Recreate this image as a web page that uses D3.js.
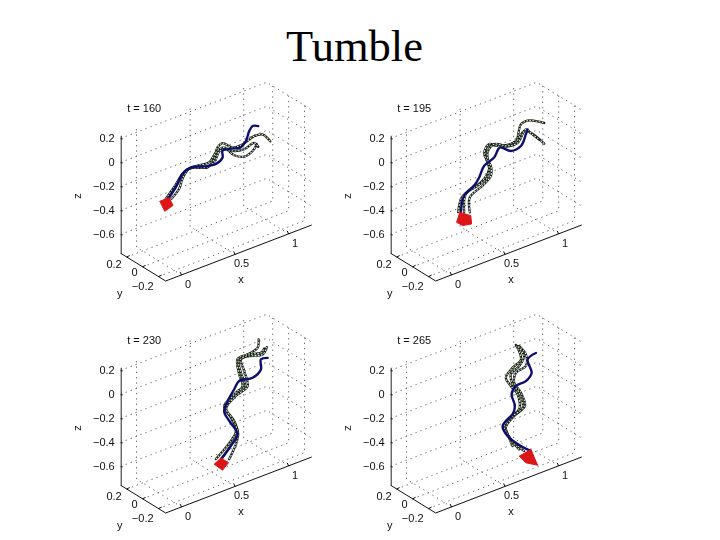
<!DOCTYPE html>
<html>
<head>
<meta charset="utf-8">
<script src="https://cdn.jsdelivr.net/npm/d3@7"></script>
<style>
  html, body { margin: 0; padding: 0; background: #fff; }
  text { font-family: "Liberation Sans", sans-serif; }
</style>
</head>
<body>
<div id="chart-container"></div>
<script>
// Tick values and labels
const xTicks = [0, 0.5, 1];
const xTickLabels = ['0', '0.5', '1'];
const yTicks = [-0.2, 0, 0.2];
const yTickLabels = ['\u22120.2', '0', '0.2'];
const zTicks = [-0.6, -0.4, -0.2, 0, 0.2];
const zTickLabels = ['\u22120.6', '\u22120.4', '\u22120.2', '0', '0.2'];
const timeLabels = ['t = 160', 't = 195', 't = 230', 't = 265'];

// t = 160 (all strands sit near y = 0)
const navy160X = [.078, .162, .224, .302, .426, .536, .598, .598, .676, .763, .816, .847, .879, .931];
const navy160Z = [-.281, -.200, -.110, -.083, -.118, -.136, -.103, -.047, -.055, -.077, -.040, .032, .063, .045];
const a160X = [.052, .146, .239, .333, .458, .520, .551, .598, .692, .785, .893, .972, 1.043];
const a160Z = [-.281, -.194, -.102, -.093, -.137, -.089, -.003, .017, -.052, -.057, -.026, -.039, -.120];
const b160X = [.121, .193, .224, .286, .426, .520, .566, .629, .707, .800, .879, .919];
const b160Z = [-.283, -.224, -.152, -.090, -.126, -.118, -.044, -.043, -.121, -.165, -.145, -.103];
const c160X = [.084, .178, .255, .364, .473, .536, .598, .692, .800, .893, .931];
const c160Z = [-.283, -.178, -.093, -.090, -.101, -.039, -.020, -.080, -.103, -.082, -.128];
const head160X = [.012, .099, .136, .059];
const head160Z = [-.267, -.267, -.343, -.367];

// t = 195
const navy195X = [.302, .333, .426, .473, .520, .613, .666, .769, .863, .909, .925];
const navy195Z = [-.458, -.329, -.278, -.226, -.145, -.108, -.043, -.107, -.098, -.017, .019];
const a195X = [.277, .311, .411, .489, .566, .536, .551, .692, .816, .863, .940, 1.080];
const a195Z = [-.448, -.336, -.293, -.273, -.188, -.081, .011, -.038, -.040, .083, .089, .020];
const b195X = [.386, .386, .505, .582, .582, .520, .566, .692, .800, .893, .956, 1.080];
const b195Z = [-.487, -.362, -.306, -.250, -.167, -.048, .020, -.047, -.062, .016, -.020, -.152];
const c195X = [.333, .349, .458, .551, .566, .551, .613, .738, .832, .909, .965, 1.034];
const c195Z = [-.468, -.321, -.290, -.253, -.175, -.045, .003, -.054, -.060, .025, -.032, -.102];
const head195X = [.262, .293, .395, .402, .318];
const head195Z = [-.527, -.454, -.518, -.589, -.574];

// t = 230
const navy230X = [.582, .676, .738, .660, .613, .707, .753, .879, .956, .956, 1.019];
const navy230Z = [-.678, -.599, -.523, -.385, -.286, -.138, -.085, -.101, -.058, .025, .017];
const a230X = [.536, .676, .722, .676, .613, .707, .785, .753, .738, .832, .925, .935];
const a230Z = [-.661, -.558, -.491, -.363, -.244, -.193, -.138, -.029, .102, .110, .132, .199];
const b230X = [.660, .722, .744, .707, .629, .722, .832, .800, .769, .847, .972, 1.012];
const b230Z = [-.704, -.602, -.526, -.402, -.277, -.199, -.154, -.018, .091, .091, .061, .108];
const c230X = [.598, .692, .738, .692, .629, .738, .809, .769, .753, .863, .956, .987];
const c230Z = [-.670, -.578, -.510, -.383, -.263, -.163, -.146, -.021, .082, .099, .080, .106];
const head230X = [.520, .582, .654, .598];
const head230Z = [-.698, -.669, -.731, -.775];

// t = 265
const navy265X = [.956, .863, .738, .692, .785, .807, .776, .816, .909, .963, .925, 1.003];
const navy265Z = [-.739, -.665, -.538, -.438, -.373, -.312, -.203, -.148, -.139, -.089, .036, .063];
const a265X = [.785, .738, .707, .769, .847, .832, .769, .722, .785, .863, .816];
const a265Z = [-.638, -.523, -.429, -.382, -.353, -.223, -.132, -.047, .015, .057, .193];
const b265X = [.893, .769, .722, .800, .900, .863, .800, .816, .909, .909, .847];
const b265Z = [-.717, -.576, -.463, -.392, -.344, -.221, -.115, -.038, -.014, .083, .174];
const c265X = [.847, .753, .707, .785, .879, .847, .785, .769, .847, .893, .832];
const c265Z = [-.687, -.552, -.443, -.388, -.351, -.215, -.123, -.034, .008, .074, .179];
const head265X = [.847, .956, 1.019, .909];
const head265Z = [-.743, -.725, -.878, -.820];

const panels = [
  { label: timeLabels[0], dx: 0, dy: 0, navy: [navy160X, navy160Z], tubes: [[a160X, a160Z], [b160X, b160Z], [c160X, c160Z]], head: [head160X, head160Z] },
  { label: timeLabels[1], dx: 270, dy: 0, navy: [navy195X, navy195Z], tubes: [[a195X, a195Z], [b195X, b195Z], [c195X, c195Z]], head: [head195X, head195Z] },
  { label: timeLabels[2], dx: 0, dy: 232, navy: [navy230X, navy230Z], tubes: [[a230X, a230Z], [b230X, b230Z], [c230X, c230Z]], head: [head230X, head230Z] },
  { label: timeLabels[3], dx: 270, dy: 232, navy: [navy265X, navy265Z], tubes: [[a265X, a265Z], [b265X, b265Z], [c265X, c265Z]], head: [head265X, head265Z] }
];
const tubeColors = ['#d6e6b0', '#e2f2f2', '#cfe4bc'];

const width = 720;
const height = 540;

// Axis limits of the box
const xMin = -0.148, xMax = 1.215;
const yMin = -0.29, yMax = 0.276;
const zMin = -0.758, zMax = 0.225;

// Oblique projection: each data axis moves the point along a fixed screen direction
const xToSx = d3.scaleLinear().domain([xMin, xMax]).range([0, 146]);
const xToSy = d3.scaleLinear().domain([xMin, xMax]).range([0, -56]);
const yToSx = d3.scaleLinear().domain([yMin, yMax]).range([0, -45]);
const yToSy = d3.scaleLinear().domain([yMin, yMax]).range([0, -27.7]);
const zToSy = d3.scaleLinear().domain([zMin, zMax]).range([0, -118]);

function project(x, y, z) {
  return [xToSx(x) + yToSx(y), xToSy(x) + yToSy(y) + zToSy(z)];
}

const svg = d3.select('#chart-container')
  .append('svg')
  .attr('width', width)
  .attr('height', height)
  .style('display', 'block');

// The reference is a soft, scaled-up bitmap
svg.append('defs').append('filter')
  .attr('id', 'soft')
  .append('feGaussianBlur')
  .attr('stdDeviation', 0.5);

svg.append('text')
  .attr('x', 354.5)
  .attr('y', 61)
  .attr('text-anchor', 'middle')
  .style('font-family', '"Liberation Serif", serif')
  .style('font-size', '44.5px')
  .attr('fill', '#000')
  .text('Tumble');

const lineGen = d3.line();
const curveGen = d3.line().curve(d3.curveCatmullRom.alpha(0.5));

function toPoints(series) {
  return series[0].map((x, i) => project(x, 0, series[1][i]));
}

panels.forEach((panel) => {
  const g = svg.append('g')
    .attr('transform', `translate(${165.7 + panel.dx},${281 + panel.dy})`)
    .attr('filter', 'url(#soft)');

  // Dotted grid on floor and the two back walls
  const gridLines = [];
  xTicks.forEach((x) => {
    gridLines.push([project(x, yMin, zMin), project(x, yMax, zMin), project(x, yMax, zMax)]);
  });
  yTicks.forEach((y) => {
    gridLines.push([project(xMin, y, zMin), project(xMax, y, zMin), project(xMax, y, zMax)]);
  });
  zTicks.forEach((z) => {
    gridLines.push([project(xMin, yMax, z), project(xMax, yMax, z), project(xMax, yMin, z)]);
  });
  g.selectAll('path.grid')
    .data(gridLines)
    .enter()
    .append('path')
    .attr('class', 'grid')
    .attr('d', (d) => lineGen(d))
    .attr('fill', 'none')
    .attr('stroke', '#666')
    .attr('stroke-width', 1)
    .attr('stroke-dasharray', '1.3 4');

  // Axis lines
  const xAxisPath = [project(xMin, yMin, zMin), project(xMax, yMin, zMin)];
  const yAxisPath = [project(xMin, yMin, zMin), project(xMin, yMax, zMin)];
  [xAxisPath, yAxisPath].forEach((d) => {
    g.append('path')
      .attr('d', lineGen(d))
      .attr('fill', 'none')
      .attr('stroke', '#111')
      .attr('stroke-width', 1);
  });

  // z axis
  const base = project(xMin, yMax, zMin);
  const zAxisScale = d3.scaleLinear().domain([zMin, zMax]).range([0, -118]);
  const zAxis = g.append('g')
    .attr('transform', `translate(${base[0]},${base[1]})`)
    .call(d3.axisLeft(zAxisScale)
      .tickValues(zTicks)
      .tickSizeInner(-2)
      .tickSizeOuter(0)
      .tickPadding(6)
      .tickFormat((d, i) => zTickLabels[i]));
  zAxis.selectAll('text').style('font-size', '11px').attr('fill', '#111');
  zAxis.selectAll('line').attr('stroke', '#222');
  zAxis.select('.domain').attr('stroke', '#222');

  // x ticks and labels
  xTicks.forEach((x, i) => {
    const p = project(x, yMin, zMin);
    g.append('line')
      .attr('x1', p[0]).attr('y1', p[1])
      .attr('x2', p[0] - 1.5).attr('y2', p[1] - 3)
      .attr('stroke', '#111');
    g.append('text')
      .attr('x', p[0] + 6.5).attr('y', p[1] + 13)
      .attr('text-anchor', 'middle')
      .attr('fill', '#111')
      .style('font-size', '11px')
      .text(xTickLabels[i]);
  });

  // y ticks and labels, spread a little so they stay clear of each other
  const yLabelNudge = [2.5, -1, 0];
  yTicks.forEach((y, i) => {
    const p = project(xMin, y, zMin);
    g.append('line')
      .attr('x1', p[0]).attr('y1', p[1])
      .attr('x2', p[0] + 3).attr('y2', p[1] - 1.5)
      .attr('stroke', '#111');
    g.append('text')
      .attr('x', p[0] - 5).attr('y', p[1] + 10.5 + yLabelNudge[i])
      .attr('text-anchor', 'end')
      .attr('fill', '#111')
      .style('font-size', '11px')
      .text(yTickLabels[i]);
  });

  // Axis names
  const xName = project(0.5, yMin, zMin);
  g.append('text')
    .attr('x', xName[0] + 6).attr('y', xName[1] + 29)
    .attr('text-anchor', 'middle').attr('fill', '#111')
    .style('font-size', '11px').text('x');
  const yName = project(xMin, yMin, zMin);
  g.append('text')
    .attr('x', yName[0] - 46).attr('y', yName[1] + 16)
    .attr('text-anchor', 'middle').attr('fill', '#111')
    .style('font-size', '11px').text('y');
  g.append('text')
    .attr('transform', `translate(${base[0] - 40},${zToSy(-0.28) + base[1]}) rotate(-90)`)
    .attr('text-anchor', 'middle').attr('fill', '#111')
    .style('font-size', '11px').text('z');

  // Time label
  g.append('text')
    .attr('x', base[0] + 6.5).attr('y', base[1] - 141)
    .attr('fill', '#111')
    .style('font-size', '11px')
    .text(panel.label);

  // Light strands: dark tube with a pale dashed core
  panel.tubes.forEach((tube, i) => {
    const d = curveGen(toPoints(tube));
    g.append('path').attr('d', d).attr('fill', 'none')
      .attr('stroke', '#141a16').attr('stroke-width', 2.3).attr('stroke-linecap', 'round');
    g.append('path').attr('d', d).attr('fill', 'none')
      .attr('stroke', tubeColors[i]).attr('stroke-width', 1.1).attr('stroke-dasharray', '1.8 1.3');
  });

  // Navy strand
  g.append('path')
    .attr('d', curveGen(toPoints(panel.navy)))
    .attr('fill', 'none')
    .attr('stroke', '#10106e')
    .attr('stroke-width', 2.4)
    .attr('stroke-linecap', 'round');

  // Red head
  g.append('path')
    .attr('d', lineGen(toPoints(panel.head)) + 'Z')
    .attr('fill', '#dc1419')
    .attr('stroke', '#dc1419')
    .attr('stroke-width', 1)
    .attr('stroke-linejoin', 'round');
});
</script>
</body>
</html>
